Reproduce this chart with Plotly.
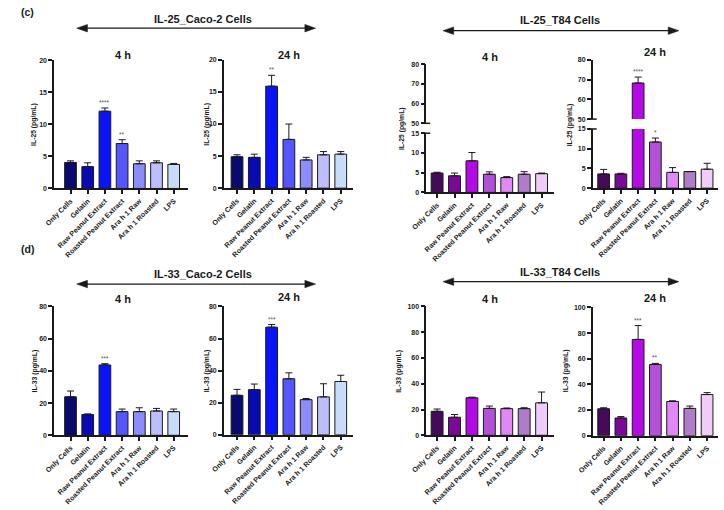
import plotly.graph_objects as go

W, H = 724, 510

categories = ["Only Cells", "Gelatin", "Raw Peanut Extract", "Roasted Peanut Extract",
              "Ara h 1 Raw", "Ara h 1 Roasted", "LPS"]

caco_colors = ["#0a0a6e", "#0a0ab4", "#0a14fa", "#5656ff", "#8c8cff", "#bebeff", "#c8dcfa"]
t84_colors = ["#460a5a", "#780a96", "#b40ae6", "#b450d7", "#e088f5", "#b07cc8", "#f0ccf8"]

# IL-25
il25_caco_4h = [4.05, 3.4, 12.05, 7.0, 3.85, 4.0, 3.75]
il25_caco_4h_sd = [0.25, 0.6, 0.5, 0.6, 0.45, 0.3, 0.15]
il25_caco_4h_sig = ["", "", "****", "**", "", "", ""]

il25_caco_24h = [4.9, 4.8, 15.9, 7.6, 4.4, 5.2, 5.3]
il25_caco_24h_sd = [0.3, 0.5, 1.7, 2.4, 0.4, 0.5, 0.4]
il25_caco_24h_sig = ["", "", "**", "", "", "", ""]

il25_t84_4h = [4.9, 4.2, 8.0, 4.6, 3.75, 4.6, 4.75]
il25_t84_4h_sd = [0.2, 0.7, 2.1, 0.6, 0.25, 0.65, 0.15]
il25_t84_4h_sig = ["", "", "", "", "", "", ""]

il25_t84_24h = [3.6, 3.6, 68.3, 11.7, 4.0, 4.2, 4.8]
il25_t84_24h_sd = [1.15, 0.15, 3.0, 1.0, 1.2, 0.0, 1.5]
il25_t84_24h_sig = ["", "", "****", "*", "", "", ""]

# IL-33
il33_caco_4h = [23.9, 12.9, 43.7, 14.7, 14.7, 15.1, 14.7]
il33_caco_4h_sd = [3.6, 0.4, 0.8, 1.6, 2.4, 1.6, 1.6]
il33_caco_4h_sig = ["", "", "***", "", "", "", ""]

il33_caco_24h = [24.6, 28.1, 67.1, 34.9, 21.9, 23.6, 33.2]
il33_caco_24h_sd = [3.7, 3.5, 1.6, 3.7, 0.7, 8.2, 3.9]
il33_caco_24h_sig = ["", "", "***", "", "", "", ""]

il33_t84_4h = [18.6, 14.0, 29.1, 20.9, 20.7, 20.7, 25.2]
il33_t84_4h_sd = [1.8, 2.1, 0.5, 1.8, 0.5, 0.7, 8.4]
il33_t84_4h_sig = ["", "", "", "", "", "", ""]

il33_t84_24h = [21.0, 13.8, 75.1, 55.6, 26.7, 21.3, 32.1]
il33_t84_24h_sd = [0.8, 1.1, 10.8, 0.8, 0.5, 1.8, 1.5]
il33_t84_24h_sig = ["", "", "***", "**", "", "", ""]

FONT = "Liberation Sans, Arial, sans-serif"
INK = "#1a1a1a"


def px(x):
    return x / W


def py(y):
    return 1 - y / H


panels = [
    dict(vals=il25_caco_4h, sd=il25_caco_4h_sd, sig=il25_caco_4h_sig, colors=caco_colors,
         xd=(40, 177), xr=(-0.95, 6.85), title="4 h", tpos=(110, 51.5),
         ytitle="IL-25 (pg/mL)", ytpos=(20, 122),
         segs=[(57, 187, (0, 20), [0, 5, 10, 15, 20])]),
    dict(vals=il25_caco_24h, sd=il25_caco_24h_sd, sig=il25_caco_24h_sig, colors=caco_colors,
         xd=(213.3, 345), xr=(-0.76, 6.7), title="24 h", tpos=(279.5, 51.5),
         ytitle="IL-25 (pg/mL)", ytpos=(196.5, 122),
         segs=[(56.7, 186.7, (0, 20), [0, 5, 10, 15, 20])]),
    dict(vals=il25_t84_4h, sd=il25_t84_4h_sd, sig=il25_t84_4h_sig, colors=t84_colors,
         xd=(420, 550), xr=(-0.62, 6.69), title="4 h", tpos=(485, 53.3),
         ytitle="IL-25 (pg/mL)", ytpos=(395, 126),
         segs=[(131, 191, (0, 15), [0, 5, 10, 15]), (61, 121, (50, 80), [50, 60, 70, 80])]),
    dict(vals=il25_t84_24h, sd=il25_t84_24h_sd, sig=il25_t84_24h_sig, colors=t84_colors,
         xd=(590, 718), xr=(-0.63, 6.64), title="24 h", tpos=(653.3, 48.3),
         ytitle="IL-25 (pg/mL)", ytpos=(566.7, 122),
         segs=[(126.7, 186.7, (0, 15), [0, 5, 10, 15]), (56.7, 116.7, (50, 80), [50, 60, 70, 80])]),
    dict(vals=il33_caco_4h, sd=il33_caco_4h_sd, sig=il33_caco_4h_sig, colors=caco_colors,
         xd=(40, 177), xr=(-0.95, 6.85), title="4 h", tpos=(110, 299.3),
         ytitle="IL-33 (pg/mL)", ytpos=(20, 372),
         segs=[(306.7, 437.3, (0, 80), [0, 20, 40, 60, 80])]),
    dict(vals=il33_caco_24h, sd=il33_caco_24h_sd, sig=il33_caco_24h_sig, colors=caco_colors,
         xd=(213.3, 345), xr=(-0.76, 6.7), title="24 h", tpos=(279.5, 296.7),
         ytitle="IL-33 (pg/mL)", ytpos=(195.5, 372),
         segs=[(306.7, 436.7, (0, 80), [0, 20, 40, 60, 80])]),
    dict(vals=il33_t84_4h, sd=il33_t84_4h_sd, sig=il33_t84_4h_sig, colors=t84_colors,
         xd=(420, 550), xr=(-0.62, 6.69), title="4 h", tpos=(485, 299.3),
         ytitle="IL-33 (pg/mL)", ytpos=(392, 372),
         segs=[(306.7, 437.3, (0, 100), [0, 20, 40, 60, 80, 100])]),
    dict(vals=il33_t84_24h, sd=il33_t84_24h_sd, sig=il33_t84_24h_sig, colors=t84_colors,
         xd=(590, 718), xr=(-0.63, 6.64), title="24 h", tpos=(653.3, 298.3),
         ytitle="IL-33 (pg/mL)", ytpos=(563, 372),
         segs=[(307.7, 437.7, (0, 100), [0, 20, 40, 60, 80, 100])]),
]

fig = go.Figure()
layout = {}
annotations = []
shapes = []
yi = 0

for xi, p in enumerate(panels, start=1):
    xname = "x" if xi == 1 else f"x{xi}"
    xkey = "xaxis" if xi == 1 else f"xaxis{xi}"
    seg_ynames = []
    for si, (top, bot, yr, ticks) in enumerate(p["segs"]):
        yi += 1
        yname = "y" if yi == 1 else f"y{yi}"
        ykey = "yaxis" if yi == 1 else f"yaxis{yi}"
        seg_ynames.append((yname, yr))
        layout[ykey] = dict(
            domain=[py(bot), py(top)], range=list(yr), tickvals=ticks,
            anchor=xname, showline=True, linecolor=INK, linewidth=1.5,
            ticks="outside", ticklen=4, tickwidth=1.5, tickcolor=INK,
            showgrid=False, zeroline=False, fixedrange=True,
            tickfont=dict(family=FONT, size=7, color=INK, weight="bold"),
        )
        if si == 0:
            x_anchor_y = yname
        fig.add_trace(go.Bar(
            x=categories, y=p["vals"], xaxis=xname, yaxis=yname,
            width=0.68, showlegend=False,
            marker=dict(color=p["colors"], line=dict(color=INK, width=1)),
            error_y=dict(type="data", symmetric=False, array=p["sd"],
                         arrayminus=[0] * len(p["vals"]),
                         color=INK, thickness=1, width=3.5),
        ))
        if si == 1:
            xa = p["xd"][0]
            lower_top = p["segs"][0][0]
            for yy in (bot, lower_top):
                shapes.append(dict(type="line", xref="paper", yref="paper",
                                   x0=px(xa - 4), x1=px(xa + 4), y0=py(yy), y1=py(yy),
                                   line=dict(color=INK, width=1.5)))
    layout[xkey] = dict(
        domain=[px(p["xd"][0]), px(p["xd"][1])], range=list(p["xr"]),
        type="category", categoryorder="array", categoryarray=categories,
        anchor=x_anchor_y, showline=True, linecolor=INK, linewidth=1.5,
        ticks="outside", ticklen=4, tickwidth=1.5, tickcolor=INK,
        tickangle=-45, showgrid=False, zeroline=False, fixedrange=True,
        tickfont=dict(family=FONT, size=7.1, color=INK, weight="bold"),
    )
    for c, v, s, g in zip(categories, p["vals"], p["sd"], p["sig"]):
        if not g:
            continue
        top_val = v + s
        yname = seg_ynames[0][0]
        for yn, yr in seg_ynames:
            if yr[0] <= top_val <= yr[1]:
                yname = yn
        annotations.append(dict(x=c, y=top_val, xref=xname, yref=yname, text=g,
                                showarrow=False, yanchor="bottom", yshift=0,
                                font=dict(family=FONT, size=6.5, color="#555555")))
    annotations.append(dict(x=px(p["tpos"][0]), y=py(p["tpos"][1]), xref="paper", yref="paper",
                            text=p["title"], showarrow=False, xanchor="center", yanchor="middle",
                            font=dict(family=FONT, size=11, color=INK, weight="bold")))
    annotations.append(dict(x=px(p["ytpos"][0]), y=py(p["ytpos"][1]), xref="paper", yref="paper",
                            text=p["ytitle"], textangle=-90, showarrow=False,
                            xanchor="center", yanchor="middle",
                            font=dict(family=FONT, size=6.8, color=INK, weight="bold")))

headers = [
    ("IL-25_Caco-2 Cells", (192, 15), (63, 307, 24.5)),
    ("IL-25_T84 Cells", (557, 16.7), (437, 678, 27)),
    ("IL-33_Caco-2 Cells", (192, 274), (63, 307, 284)),
    ("IL-33_T84 Cells", (557, 271.7), (437, 678, 281.5)),
]
for text, (tx, ty), (x0, x1, ay) in headers:
    annotations.append(dict(x=px(tx), y=py(ty), xref="paper", yref="paper", text=text,
                            showarrow=False, xanchor="center", yanchor="middle",
                            font=dict(family=FONT, size=11, color=INK, weight="bold")))
    hl, hh = 11, 3.8
    shapes.append(dict(type="line", xref="paper", yref="paper",
                       x0=px(x0 + hl - 1), x1=px(x1 - hl + 1), y0=py(ay), y1=py(ay),
                       line=dict(color=INK, width=1.2)))
    shapes.append(dict(type="path", xref="paper", yref="paper", fillcolor=INK,
                       line=dict(color=INK, width=0.5),
                       path=f"M {px(x0)} {py(ay)} L {px(x0 + hl)} {py(ay - hh)} L {px(x0 + hl)} {py(ay + hh)} Z"))
    shapes.append(dict(type="path", xref="paper", yref="paper", fillcolor=INK,
                       line=dict(color=INK, width=0.5),
                       path=f"M {px(x1)} {py(ay)} L {px(x1 - hl)} {py(ay - hh)} L {px(x1 - hl)} {py(ay + hh)} Z"))

for lab, (lx, ly) in [("(c)", (4, 8)), ("(d)", (4, 248))]:
    annotations.append(dict(x=px(lx), y=py(ly), xref="paper", yref="paper", text=lab,
                            showarrow=False, xanchor="left", yanchor="middle",
                            font=dict(family=FONT, size=10.5, color=INK, weight="bold")))

fig.update_layout(
    width=W, height=H, margin=dict(l=0, r=0, t=0, b=0),
    paper_bgcolor="white", plot_bgcolor="white",
    bargap=0.3, showlegend=False,
    annotations=annotations, shapes=shapes,
    **layout,
)

fig.write_html("out.html")
